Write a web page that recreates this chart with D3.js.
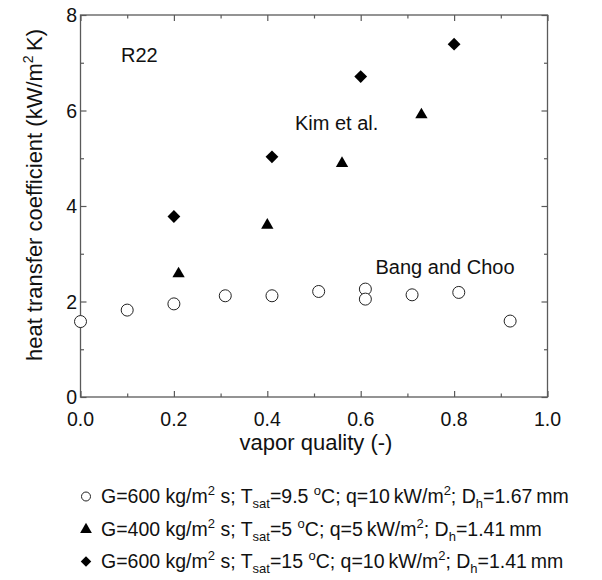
<!DOCTYPE html>
<html><head><meta charset="utf-8">
<script src="https://cdn.jsdelivr.net/npm/d3@7"></script>
<style>
html,body{margin:0;padding:0;background:#fff;}
svg{display:block;font-family:"Liberation Sans",Arial,sans-serif;}
</style></head>
<body><svg id="c" width="602" height="580"></svg>
<script>
// Data
const bangX = [0.0, 0.1, 0.2, 0.31, 0.41, 0.51, 0.61, 0.61, 0.71, 0.81, 0.92];
const bangY = [1.58, 1.82, 1.95, 2.12, 2.12, 2.21, 2.26, 2.05, 2.14, 2.19, 1.59];
const kim400X = [0.21, 0.40, 0.56, 0.73];
const kim400Y = [2.58, 3.60, 4.89, 5.91];
const kim600X = [0.20, 0.41, 0.60, 0.80];
const kim600Y = [3.78, 5.03, 6.71, 7.39];
const xTicks = [0.0, 0.2, 0.4, 0.6, 0.8, 1.0];
const xMinor = [0.1, 0.3, 0.5, 0.7, 0.9];
const yTicks = [0, 2, 4, 6, 8];
const yMinor = [1, 3, 5, 7];
const legendG = ["600", "400", "600"];
const legendT = ["9.5", "5", "15"];
const legendQ = ["10", "5", "10"];
const legendD = ["1.67", "1.41", "1.41"];

const svg = d3.select("#c");
const L = 80.5, R = 547.5, T = 15, B = 397;
const x = d3.scaleLinear().domain([0, 1]).range([L, R]);
const y = d3.scaleLinear().domain([0, 8]).range([B, T]);
const axisCol = "#5a5a5a";
const txt = "#111";

function styleAxis(g) {
  g.select(".domain").remove();
  g.selectAll("line").attr("stroke", axisCol).attr("stroke-width", 1.2);
  g.selectAll("text").remove();
}
const maj = 6, mnr = 3.5;
svg.append("g").attr("transform", `translate(0,${B})`).call(d3.axisBottom(x).tickValues(xTicks).tickSize(-maj)).call(styleAxis);
svg.append("g").attr("transform", `translate(0,${B})`).call(d3.axisBottom(x).tickValues(xMinor).tickSize(-mnr)).call(styleAxis);
svg.append("g").attr("transform", `translate(0,${T})`).call(d3.axisTop(x).tickValues(xTicks).tickSize(-maj)).call(styleAxis);
svg.append("g").attr("transform", `translate(0,${T})`).call(d3.axisTop(x).tickValues(xMinor).tickSize(-mnr)).call(styleAxis);
svg.append("g").attr("transform", `translate(${L},0)`).call(d3.axisLeft(y).tickValues(yTicks).tickSize(-maj)).call(styleAxis);
svg.append("g").attr("transform", `translate(${L},0)`).call(d3.axisLeft(y).tickValues(yMinor).tickSize(-mnr)).call(styleAxis);
svg.append("g").attr("transform", `translate(${R},0)`).call(d3.axisRight(y).tickValues(yTicks).tickSize(-maj)).call(styleAxis);
svg.append("g").attr("transform", `translate(${R},0)`).call(d3.axisRight(y).tickValues(yMinor).tickSize(-mnr)).call(styleAxis);

svg.append("rect").attr("x", L).attr("y", T).attr("width", R - L).attr("height", B - T)
  .attr("fill", "none").attr("stroke", axisCol).attr("stroke-width", 1.3);

// tick labels
svg.append("g").selectAll("text").data(xTicks).join("text")
  .attr("x", d => x(d)).attr("y", 426).attr("text-anchor", "middle")
  .attr("font-size", 19.5).attr("fill", txt).text(d => d3.format(".1f")(d));
svg.append("g").selectAll("text").data(yTicks).join("text")
  .attr("x", 77).attr("y", d => y(d) + 7).attr("text-anchor", "end")
  .attr("font-size", 19.5).attr("fill", txt).text(d => d);

// rich text helper: segments [text, shift, size]
function rich(t, segs, base) {
  let cur = 0;
  segs.forEach(([s, shift, size]) => {
    t.append("tspan").attr("dy", shift - cur).attr("font-size", size || base).text(s);
    cur = shift;
  });
}

// axis titles
svg.append("text").attr("x", 316).attr("y", 450).attr("text-anchor", "middle")
  .attr("font-size", 22).attr("fill", txt).text("vapor quality (-)");
const yl = svg.append("text").attr("transform", "translate(41.5,195) rotate(-90)")
  .attr("text-anchor", "middle").attr("font-size", 22).attr("fill", txt);
rich(yl, [["heat transfer coefficient (kW/m", 0], ["2", -9, 14], ["\u2009K)", 0]], 22);

// annotations
svg.append("text").attr("x", 121).attr("y", 62).attr("font-size", 20).attr("fill", txt).text("R22");
svg.append("text").attr("x", 295).attr("y", 130).attr("font-size", 20).attr("fill", txt).text("Kim et al.");
svg.append("text").attr("x", 375.5).attr("y", 274).attr("font-size", 20).attr("fill", txt).text("Bang and Choo");

// markers
const triPath = d3.symbol().type(d3.symbolTriangle).size(66)();
const diaPath = d3.symbol().type(d3.symbolSquare).size(82)();
svg.append("g").selectAll("circle").data(bangX.map((v, i) => [v, bangY[i]])).join("circle")
  .attr("cx", d => x(d[0])).attr("cy", d => y(d[1])).attr("r", 6)
  .attr("fill", "#fff").attr("stroke", "#222").attr("stroke-width", 1);
svg.append("g").selectAll("path").data(kim400X.map((v, i) => [v, kim400Y[i]])).join("path")
  .attr("d", triPath).attr("transform", d => `translate(${x(d[0])},${y(d[1])})`).attr("fill", "#000");
svg.append("g").selectAll("path").data(kim600X.map((v, i) => [v, kim600Y[i]])).join("path")
  .attr("d", diaPath).attr("transform", d => `translate(${x(d[0])},${y(d[1])}) rotate(45)`).attr("fill", "#000");

// legend
const legSym = ["circle", "tri", "dia"];
const legY = [503, 536, 568];
const fs = 19.5, ss = 13;
legSym.forEach((sym, i) => {
  const by = legY[i];
  const sx = 86, sy = by - 6.5;
  if (sym === "circle") svg.append("circle").attr("cx", sx).attr("cy", sy).attr("r", 4.5).attr("fill", "#fff").attr("stroke", "#222");
  else if (sym === "tri") svg.append("path").attr("d", d3.symbol().type(d3.symbolTriangle).size(60)()).attr("transform", `translate(${sx},${sy})`).attr("fill", "#000");
  else svg.append("path").attr("d", d3.symbol().type(d3.symbolSquare).size(55)()).attr("transform", `translate(${sx},${sy}) rotate(45)`).attr("fill", "#000");
  const t = svg.append("text").attr("x", 101).attr("y", by).attr("font-size", fs).attr("fill", txt);
  rich(t, [
    [`G=${legendG[i]} kg/m`, 0], ["2", -8, ss], [" s; T", 0], ["sat", 5, ss],
    [`=${legendT[i]} `, 0], ["o", -8, ss], [`C; q=${legendQ[i]}\u2009kW/m`, 0], ["2", -8, ss],
    ["; D", 0], ["h", 5, ss], [`=${legendD[i]}\u2009mm`, 0]
  ], fs);
});
</script></body></html>
